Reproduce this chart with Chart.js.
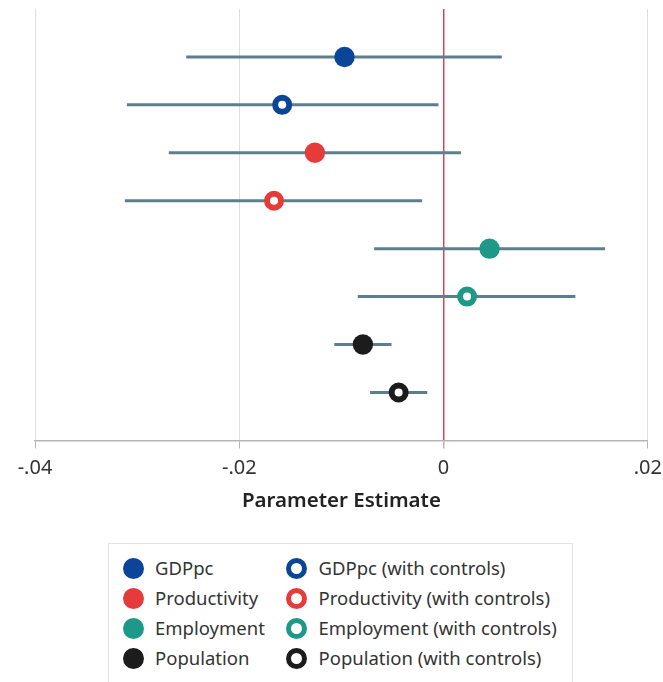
<!DOCTYPE html>
<html>
<head>
<meta charset="utf-8">
<script src="https://cdn.jsdelivr.net/npm/chart.js@4.4.0/dist/chart.umd.min.js"></script>
<style>
    body { margin: 0; background: #fff; font-family: 'Noto Sans', sans-serif; }
    #wrap { position: relative; width: 663px; height: 682px; overflow: hidden; }
    #chartBox { position: absolute; left: 0; top: -4px; width: 670px; height: 523px; }
    #legend {
        position: absolute; left: 108px; top: 543px; width: 465px; height: 150px;
        border: 1.5px solid #e3e3e3; box-sizing: border-box;
    }
    .item { position: absolute; font-size: 18.5px; color: #333; line-height: 21px; white-space: nowrap; }
    .dot { position: absolute; width: 21px; height: 21px; border-radius: 50%; box-sizing: border-box; }
</style>
</head>
<body>
<div id="wrap">
    <div id="chartBox"><canvas id="forestChart"></canvas></div>
    <div id="legend"></div>
</div>
<script>
// Data
const labels = ['GDPpc', 'GDPpc (with controls)', 'Productivity', 'Productivity (with controls)',
    'Employment', 'Employment (with controls)', 'Population', 'Population (with controls)'];
const estimates = [-0.0097, -0.0158, -0.0126, -0.0166, 0.0045, 0.0023, -0.0079, -0.0044];
const ciLow = [-0.0252, -0.0310, -0.0269, -0.0312, -0.0068, -0.0084, -0.0107, -0.0072];
const ciHigh = [0.0057, -0.0005, 0.0017, -0.0021, 0.0158, 0.0129, -0.0051, -0.0016];
const xTicks = [-0.04, -0.02, 0, 0.02];
const tickLabels = ['-.04', '-.02', '0', '.02'];

const colors = ['#0b4598', '#0b4598', '#e63b3b', '#e63b3b', '#1e9987', '#1e9987', '#1c1c1c', '#1c1c1c'];
const hollow = [false, true, false, true, false, true, false, true];
const ciColor = '#5b7f8e';

// confidence interval lines, one per row
const ciSets = labels.map((name, i) => ({
    type: 'line',
    data: [{ x: ciLow[i], y: i + 1 }, { x: ciHigh[i], y: i + 1 }],
    borderColor: ciColor,
    borderWidth: 3,
    pointRadius: 0,
    order: 2,
}));

// point estimates
const pointSets = labels.map((name, i) => ({
    type: 'scatter',
    label: name,
    data: [{ x: estimates[i], y: i + 1 }],
    backgroundColor: hollow[i] ? '#ffffff' : colors[i],
    borderColor: colors[i],
    borderWidth: hollow[i] ? 6 : 0,
    pointRadius: hollow[i] ? 7 : 10.2,
    order: 1,
}));

const ctx = document.getElementById('forestChart').getContext('2d');
new Chart(ctx, {
    data: { datasets: [...ciSets, ...pointSets] },
    options: {
        responsive: true,
        maintainAspectRatio: false,
        animation: false,
        layout: { padding: { left: 35, right: 0, top: 3, bottom: 6 } },
        scales: {
            x: {
                type: 'linear',
                min: -0.04,
                max: 0.02,
                afterBuildTicks: axis => { axis.ticks = xTicks.map(v => ({ value: v })); },
                ticks: {
                    callback: v => tickLabels[xTicks.indexOf(v)],
                    color: '#333',
                    font: { family: 'Noto Sans', size: 20 },
                    padding: 8,
                    maxRotation: 0,
                },
                grid: {
                    color: c => (c.tick && c.tick.value === 0) ? '#d9464e' : '#dedede',
                    lineWidth: c => (c.tick && c.tick.value === 0) ? 1.5 : 1,
                    tickColor: '#b5b5b5',
                    tickLength: 8,
                },
                border: { color: '#b5b5b5', width: 1.5 },
                title: {
                    display: true,
                    text: 'Parameter Estimate',
                    color: '#222',
                    font: { family: 'Noto Sans', size: 20.5, weight: '600' },
                    padding: { top: 0, bottom: 0 },
                },
            },
            y: {
                type: 'linear',
                min: 0,
                max: 9,
                reverse: true,
                display: false,
            },
        },
        plugins: {
            legend: { display: false },
            tooltip: { enabled: false },
        },
    },
});

// legend below the chart
const legend = document.getElementById('legend');
labels.forEach((name, i) => {
    const col = i % 2;
    const row = Math.floor(i / 2);
    const left = col === 0 ? 13.5 : 177;
    const top = 14 + row * 30;
    const dot = document.createElement('div');
    dot.className = 'dot';
    dot.style.left = left + 'px';
    dot.style.top = top + 'px';
    dot.style.background = hollow[i] ? '#fff' : colors[i];
    dot.style.border = hollow[i] ? '5.5px solid ' + colors[i] : 'none';
    legend.appendChild(dot);
    const txt = document.createElement('div');
    txt.className = 'item';
    txt.style.left = (left + 32.5) + 'px';
    txt.style.top = (top - 1) + 'px';
    txt.textContent = name;
    legend.appendChild(txt);
});
</script>
</body>
</html>
